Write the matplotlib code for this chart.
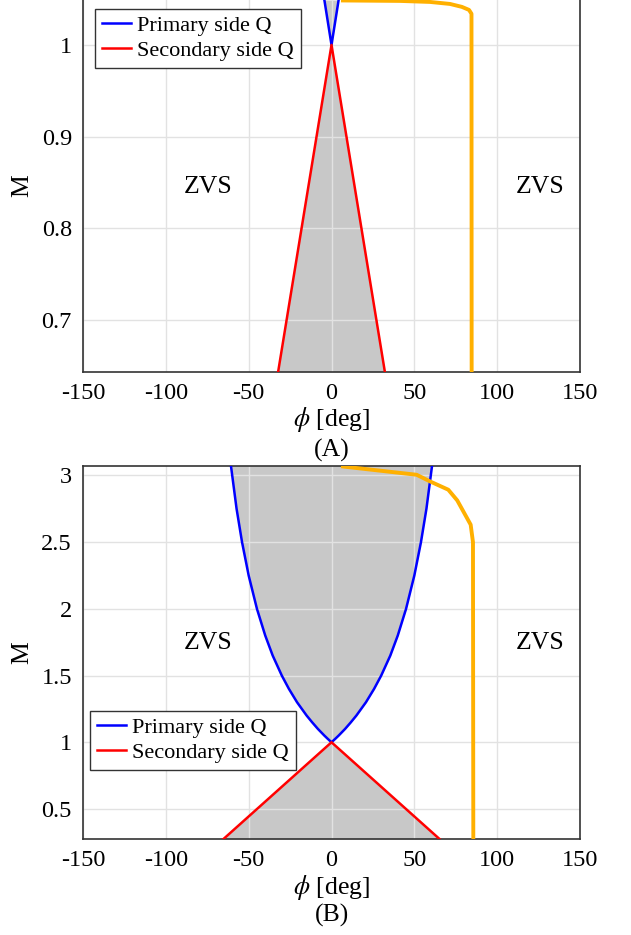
import matplotlib
matplotlib.use("Agg")
import matplotlib.pyplot as plt
import numpy as np

plt.rcParams['font.family'] = ['Liberation Serif', 'DejaVu Serif']
plt.rcParams['mathtext.fontset'] = 'stix'
plt.rcParams['axes.unicode_minus'] = False

# ---- data ----
# panel A
ylim_a = (0.6436, 1.049)
m_sec_a = [0.6436, 1.0]
phi_sec_a = [32.2, 0.0]
m_pri_a = [1.0, 1.025, 1.049]
phi_pri_a = [0.0, 2.2, 4.3]
phi_or_a = [6.9, 41.3, 59.4, 71.5, 78.7, 83.0, 84.5, 84.6]
m_or_a = [1.0485, 1.048, 1.0469, 1.0447, 1.0415, 1.0382, 1.034, 0.6436]
yticks_a = [0.7, 0.8, 0.9, 1.0]
yticklabels_a = ['0.7', '0.8', '0.9', '1']

# panel B
ylim_b = (0.275, 3.073)
m_sec_b = [0.275, 1.0]
phi_sec_b = [65.2, 0.0]
m_pri_b = [1.0, 1.025, 1.05, 1.1, 1.15, 1.2, 1.3, 1.4, 1.5, 1.65, 1.8,
           2.0, 2.25, 2.5, 2.75, 3.073]
phi_pri_b = [0.0, 2.2, 4.3, 8.2, 11.7, 15.0, 20.8, 25.7, 30.0, 35.5, 40.0,
             45.0, 50.0, 54.0, 57.3, 60.7]
phi_or_b = [6.9, 51.4, 59.5, 70.5, 75.9, 84.0, 85.4, 85.6]
m_or_b = [3.067, 3.005, 2.955, 2.893, 2.813, 2.631, 2.50, 0.275]
yticks_b = [0.5, 1.0, 1.5, 2.0, 2.5, 3.0]
yticklabels_b = ['0.5', '1', '1.5', '2', '2.5', '3']

xticks = [-150, -100, -50, 0, 50, 100, 150]
W, H = 631, 935

fig = plt.figure(figsize=(W / 100, H / 100), dpi=100)
ax_a = fig.add_axes([83 / W, 1 - 371.7 / H, 497 / W, 371.7 / H])
ax_b = fig.add_axes([83 / W, 1 - 839 / H, 497 / W, (839 - 465.7) / H])

def draw(ax, ylim, m_sec, phi_sec, m_pri, phi_pri, phi_or, m_or,
         yticks, ylabels, zvs_y, leg_anchor, letter, name, top_spine):
    m_sec = np.array(m_sec); phi_sec = np.array(phi_sec)
    m_pri = np.array(m_pri); phi_pri = np.array(phi_pri)
    ax.fill_betweenx(m_sec, -phi_sec, phi_sec, color='#c8c8c8', lw=0, zorder=1)
    ax.fill_betweenx(m_pri, -phi_pri, phi_pri, color='#c8c8c8', lw=0, zorder=1)
    ax.plot(np.concatenate([-phi_pri[::-1], phi_pri]),
            np.concatenate([m_pri[::-1], m_pri]),
            color='#0000ff', lw=1.8, label='Primary side Q', zorder=3)
    ax.plot(np.concatenate([-phi_sec, phi_sec[::-1]]),
            np.concatenate([m_sec, m_sec[::-1]]),
            color='#ff0000', lw=1.8, label='Secondary side Q', zorder=3)
    ax.plot(phi_or, m_or, color='#ffb000', lw=2.8, zorder=3)
    ax.set_xlim(-150, 150)
    ax.set_ylim(*ylim)
    ax.set_xticks(xticks)
    ax.set_xticklabels([str(t) for t in xticks])
    ax.set_yticks(yticks)
    ax.set_yticklabels(ylabels)
    ax.tick_params(length=0, labelsize=17.5, pad=8)
    ax.set_axisbelow('line')
    ax.grid(True, color='#e2e2e2', lw=1.0)
    for s in ax.spines.values():
        s.set_color('#333333')
        s.set_linewidth(1.2)
    if not top_spine:
        ax.spines['top'].set_visible(False)
    ax.set_xlabel(r'$\phi$ [deg]', fontsize=18.5, labelpad=1)
    ax.set_ylabel('M', fontsize=18.5, labelpad=6)
    ax.text(-74.5, zvs_y, 'ZVS', fontsize=18.5, ha='center', va='center')
    ax.text(125.8, zvs_y, 'ZVS', fontsize=18.5, ha='center', va='center')
    leg = ax.legend(loc='upper left', bbox_to_anchor=leg_anchor, fontsize=16,
                    fancybox=False, framealpha=1, edgecolor='#333333',
                    handlelength=1.3, handletextpad=0.3, labelspacing=0.2,
                    borderpad=0.3, borderaxespad=0)
    leg.get_frame().set_linewidth(1.0)
    ax.text(0.5, letter, name, transform=ax.transAxes,
            ha='center', va='center', fontsize=18.5)

draw(ax_a, ylim_a, m_sec_a, phi_sec_a, m_pri_a, phi_pri_a, phi_or_a, m_or_a,
     yticks_a, yticklabels_a, 0.845, (12 / 497, 1 - 9 / 371.7),
     -(450 - 371.7) / 371.7, '(A)', False)
draw(ax_b, ylim_b, m_sec_b, phi_sec_b, m_pri_b, phi_pri_b, phi_or_b, m_or_b,
     yticks_b, yticklabels_b, 1.743, (7 / 497, (839 - 711) / 373.3),
     -(915 - 839) / 373.3, '(B)', True)

fig.savefig('out.png', dpi=100)
